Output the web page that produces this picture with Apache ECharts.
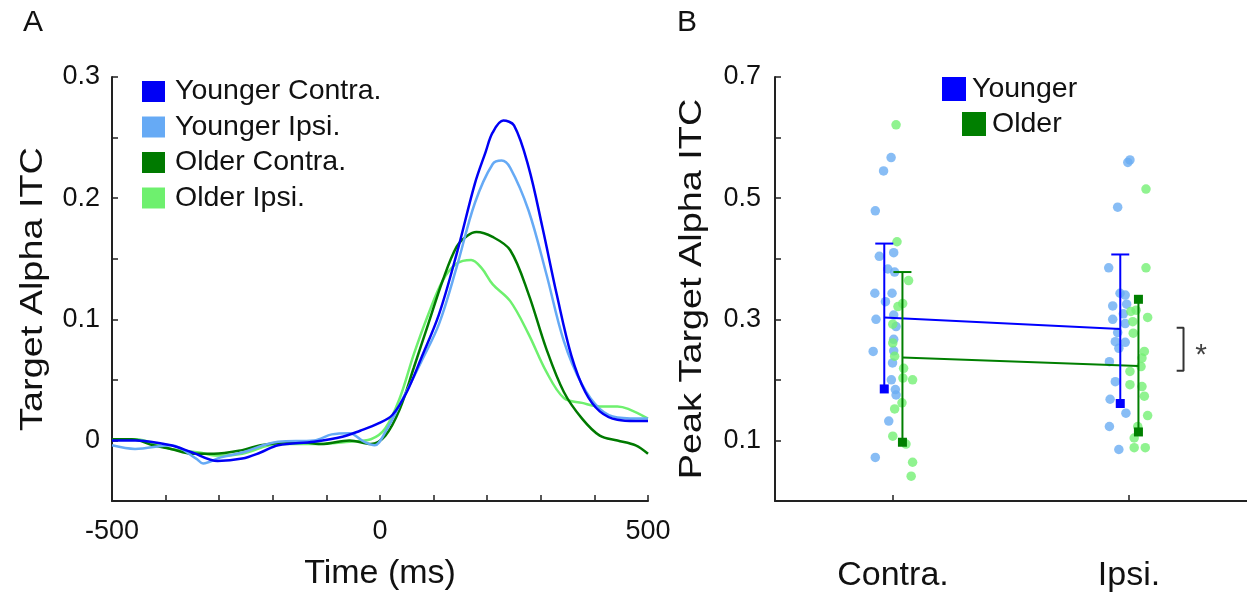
<!DOCTYPE html>
<html><head><meta charset="utf-8">
<script src="https://cdn.jsdelivr.net/npm/echarts@6/dist/echarts.min.js"></script>
<style>html,body{margin:0;padding:0;background:#fff}#c{width:1247px;height:592px}</style>
</head><body><div id="c"></div>
<script>
// ---------- Panel A: time courses ----------
const ycT = [-500,-457,-390,-350,-303,-257,-223,-190,-123,-70,-37,-3,23,50,77,110,143,177,197,210,230,250,277,303,330,357,383,410,443,477,500];
const ycV = [0.000,0.000,-0.004,-0.010,-0.017,-0.015,-0.010,-0.004,-0.001,0.003,0.008,0.014,0.021,0.040,0.068,0.104,0.154,0.212,0.238,0.254,0.264,0.260,0.226,0.176,0.120,0.070,0.040,0.024,0.017,0.016,0.016];
const yiT = [-500,-457,-390,-343,-330,-297,-257,-190,-123,-90,-57,-30,-10,10,43,77,110,143,177,210,227,243,277,310,343,377,410,443,500];
const yiV = [-0.004,-0.007,-0.004,-0.015,-0.019,-0.014,-0.010,-0.001,0.000,0.005,0.006,-0.001,-0.004,0.007,0.035,0.065,0.096,0.143,0.196,0.228,0.231,0.225,0.190,0.138,0.082,0.046,0.026,0.019,0.018];
const ocT = [-500,-463,-423,-390,-350,-310,-257,-223,-157,-110,-57,-17,10,37,63,90,117,143,163,180,210,243,277,310,343,377,410,443,477,500];
const ocV = [0.001,0.001,-0.004,-0.007,-0.011,-0.011,-0.008,-0.004,-0.001,-0.003,0.000,-0.003,0.004,0.026,0.060,0.096,0.132,0.160,0.169,0.172,0.168,0.157,0.121,0.076,0.040,0.018,0.004,0.000,-0.004,-0.011];
const oiT = [-500,-457,-390,-337,-303,-257,-190,-123,-57,-17,10,37,63,90,117,143,170,190,210,243,277,310,343,377,410,443,463,500];
const oiV = [0.001,0.001,-0.007,-0.010,-0.0125,-0.011,-0.003,-0.003,-0.001,0.001,0.010,0.035,0.071,0.104,0.132,0.146,0.149,0.142,0.129,0.115,0.088,0.057,0.035,0.031,0.028,0.028,0.026,0.018];
const seriesNamesA = ['Younger Contra.','Younger Ipsi.','Older Contra.','Older Ipsi.'];
const xTickLabelsA = [-500, 0, 500];
const titleA = 'Target Alpha ITC';
const titleB = 'Peak Target Alpha ITC';

// ---------- Panel B: peak ITC ----------
const categoriesB = ['Contra.','Ipsi.'];
const categoryPos = [1, 2];
const youngerMean = [0.303, 0.284];
const youngerLow  = [0.185, 0.161];
const youngerHigh = [0.425, 0.407];
const olderMean   = [0.237, 0.223];
const olderLow    = [0.097, 0.114];
const olderHigh   = [0.378, 0.333];
const olderTopSquare = [0, 1];
// individual subjects (jittered x, value)
const youngerDotsX = [0.992,0.960,0.925,0.942,1.003,0.978,1.007,0.923,0.996,0.968,0.928,1.003,1.013,1.003,0.916,1.003,0.998,0.993,1.010,1.013,0.982,0.925,
  1.995,2.004,1.952,1.914,1.962,1.984,1.931,1.990,1.931,1.976,1.984,1.952,1.942,1.984,1.957,1.917,1.942,1.920,1.987,1.917,1.957];
const youngerDotsV = [0.567,0.545,0.479,0.404,0.410,0.383,0.378,0.343,0.343,0.329,0.300,0.307,0.288,0.267,0.247,0.248,0.228,0.200,0.184,0.175,0.132,0.072,
  0.559,0.563,0.485,0.385,0.343,0.340,0.322,0.325,0.300,0.309,0.293,0.278,0.263,0.262,0.252,0.230,0.197,0.168,0.145,0.123,0.085];
const olderDotsX = [1.013,1.017,1.066,1.041,1.021,0.999,0.999,1.007,1.045,1.083,1.042,1.038,1.007,0.999,1.055,1.083,1.077,
  2.072,2.072,2.030,2.008,2.079,2.016,2.018,2.065,2.055,2.051,2.004,2.004,2.055,2.065,2.079,2.037,2.022,2.022,2.069];
const olderDotsV = [0.621,0.428,0.364,0.326,0.321,0.292,0.261,0.239,0.219,0.200,0.203,0.162,0.152,0.107,0.094,0.064,0.041,
  0.515,0.385,0.315,0.313,0.303,0.296,0.277,0.247,0.236,0.222,0.214,0.192,0.189,0.173,0.141,0.123,0.104,0.088,0.088];
const bracketX = [2.202, 2.231];
const bracketV = [0.286, 0.215];
const starPos = [2.305, 0.250];

const FONT = "'Liberation Sans', Arial, Helvetica, sans-serif";
const TXT = '#111';
const zip = (a, b) => a.map((v, i) => [v, b[i]]);
const colorsA = ['#0000f5', '#66aaf5', '#007a00', '#6ef06e'];
const BLUE = '#0000ff', GREEN = '#007f00', LBLUE = '#6aacf2', LGREEN = '#74f074';
const offY = -0.037, offO = 0.04;

function errRender(color) {
  return function (params, api) {
    const x = api.value(0), lo = api.value(1), hi = api.value(2), topSq = api.value(3);
    const pL = api.coord([x, lo]), pH = api.coord([x, hi]);
    const ch = [
      {type: 'line', shape: {x1: pL[0], y1: pL[1], x2: pH[0], y2: pH[1]}, style: {stroke: color, lineWidth: 2}},
      {type: 'rect', shape: {x: pL[0] - 4.5, y: pL[1] - 4.5, width: 9, height: 9}, style: {fill: color}}
    ];
    if (topSq) ch.push({type: 'rect', shape: {x: pH[0] - 4.5, y: pH[1] - 4.5, width: 9, height: 9}, style: {fill: color}});
    else ch.push({type: 'line', shape: {x1: pH[0] - 9, y1: pH[1], x2: pH[0] + 9, y2: pH[1]}, style: {stroke: color, lineWidth: 2}});
    return {type: 'group', children: ch};
  };
}

const axisLineStyle = {show: true, onZero: false, lineStyle: {color: '#222', width: 2}};
const axisTickStyle = {show: true, inside: true, length: 6, lineStyle: {color: '#222', width: 1.5}};
const vTitle = (text, x) => ({type: 'text', x: x, y: 289, rotation: Math.PI / 2, scaleX: 1.22, z: 10,
  style: {text: text, fontSize: 31, fill: TXT, fontFamily: FONT, textAlign: 'center', textVerticalAlign: 'middle', align: 'center', verticalAlign: 'middle'}});

const option = {
  animation: false,
  textStyle: {fontFamily: FONT},
  graphic: [
    {type: 'text', left: 23, top: 8, style: {text: 'A', fontSize: 30, fill: TXT, fontFamily: FONT}},
    {type: 'text', left: 677, top: 8, style: {text: 'B', fontSize: 30, fill: TXT, fontFamily: FONT}},
    vTitle(titleA, 33),
    vTitle(titleB, 692)
  ],
  grid: [
    {left: 112, top: 77, width: 536, height: 424, outerBoundsMode: 'none', containLabel: false},
    {left: 775, top: 77, width: 472, height: 424, outerBoundsMode: 'none', containLabel: false}
  ],
  legend: [
    {data: seriesNamesA.map(n => ({name: n, icon: 'rect'})), orient: 'vertical', left: 142, top: 77, padding: 0,
     itemWidth: 23, itemHeight: 21, itemGap: 6.5, selectedMode: false,
     textStyle: {fontSize: 28.5, color: TXT, fontFamily: FONT, padding: [0, 0, 0, 5]}},
    {data: [{name: 'Younger', icon: 'rect'}], left: 942, top: 74.5, padding: 0, itemWidth: 24, itemHeight: 24, selectedMode: false,
     textStyle: {fontSize: 28.5, color: TXT, fontFamily: FONT, padding: [0, 0, 0, 1]}},
    {data: [{name: 'Older', icon: 'rect'}], left: 962, top: 109.5, padding: 0, itemWidth: 24, itemHeight: 24, selectedMode: false,
     textStyle: {fontSize: 28.5, color: TXT, fontFamily: FONT, padding: [0, 0, 0, 1]}}
  ],
  xAxis: [
    {gridIndex: 0, type: 'value', min: -500, max: 500, interval: 100,
     axisLine: axisLineStyle, axisTick: axisTickStyle, splitLine: {show: false},
     axisLabel: {fontSize: 27, color: TXT, margin: 17, formatter: v => xTickLabelsA.includes(v) ? String(v) : ''},
     name: 'Time (ms)', nameLocation: 'middle', nameGap: 56, nameTextStyle: {fontSize: 34, color: TXT}},
    {gridIndex: 1, type: 'value', min: 0.5, max: 2.5,
     axisLine: axisLineStyle, axisTick: Object.assign({}, axisTickStyle, {customValues: categoryPos}), splitLine: {show: false},
     axisLabel: {customValues: categoryPos, fontSize: 34, color: TXT, margin: 58,
       formatter: v => categoriesB[categoryPos.indexOf(Math.round(v))] || ''}}
  ],
  yAxis: [
    {gridIndex: 0, type: 'value', min: -0.05, max: 0.3, interval: 0.05,
     axisLine: axisLineStyle, axisTick: axisTickStyle, splitLine: {show: false},
     axisLabel: {fontSize: 27, color: TXT, margin: 12, formatter: v => { const r = Math.round(v * 100); return (r >= 0 && r % 10 === 0) ? String(r / 100) : ''; }}},
    {gridIndex: 1, type: 'value', min: 0, max: 0.7, interval: 0.1,
     axisLine: axisLineStyle, axisTick: axisTickStyle, splitLine: {show: false},
     axisLabel: {fontSize: 27, color: TXT, margin: 14, formatter: v => { const r = Math.round(v * 10); return (r % 2 === 1) ? String(r / 10) : ''; }}}
  ],
  series: [
    ...[[ycT, ycV], [yiT, yiV], [ocT, ocV], [oiT, oiV]].map((d, i) => ({
      name: seriesNamesA[i], type: 'line', xAxisIndex: 0, yAxisIndex: 0, data: zip(d[0], d[1]),
      showSymbol: false, smooth: 0.35, color: colorsA[i], lineStyle: {width: 2.5, color: colorsA[i]}, z: 4 - i
    })),
    {name: 'YoungerDots', type: 'scatter', xAxisIndex: 1, yAxisIndex: 1, data: zip(youngerDotsX, youngerDotsV),
     symbolSize: 9.5, itemStyle: {color: LBLUE}, z: 2},
    {name: 'OlderDots', type: 'scatter', xAxisIndex: 1, yAxisIndex: 1, data: zip(olderDotsX, olderDotsV),
     symbolSize: 9.5, itemStyle: {color: LGREEN}, z: 2},
    {name: 'Younger', type: 'line', xAxisIndex: 1, yAxisIndex: 1, color: BLUE,
     data: zip(categoryPos.map(c => c + offY), youngerMean), showSymbol: false, lineStyle: {width: 2, color: BLUE}, z: 5},
    {name: 'Older', type: 'line', xAxisIndex: 1, yAxisIndex: 1, color: GREEN,
     data: zip(categoryPos.map(c => c + offO), olderMean), showSymbol: false, lineStyle: {width: 2, color: GREEN}, z: 5},
    {name: 'YoungerErr', type: 'custom', xAxisIndex: 1, yAxisIndex: 1, renderItem: errRender(BLUE), z: 6,
     data: categoryPos.map((c, i) => [c + offY, youngerLow[i], youngerHigh[i], 0])},
    {name: 'OlderErr', type: 'custom', xAxisIndex: 1, yAxisIndex: 1, renderItem: errRender(GREEN), z: 6,
     data: categoryPos.map((c, i) => [c + offO, olderLow[i], olderHigh[i], olderTopSquare[i]])},
    {name: 'bracket', type: 'line', xAxisIndex: 1, yAxisIndex: 1, showSymbol: false, color: '#333',
     lineStyle: {width: 2, color: '#333'},
     data: [[bracketX[0], bracketV[0]], [bracketX[1], bracketV[0]], [bracketX[1], bracketV[1]], [bracketX[0], bracketV[1]]]},
    {name: 'star', type: 'scatter', xAxisIndex: 1, yAxisIndex: 1, symbolSize: 1, itemStyle: {color: 'rgba(0,0,0,0)'},
     data: [starPos], label: {show: true, position: 'inside', formatter: '*', fontSize: 30, color: TXT, offset: [0, 6]}}
  ]
};
echarts.init(document.getElementById('c'), null, {renderer: 'canvas'}).setOption(option);
</script></body></html>
